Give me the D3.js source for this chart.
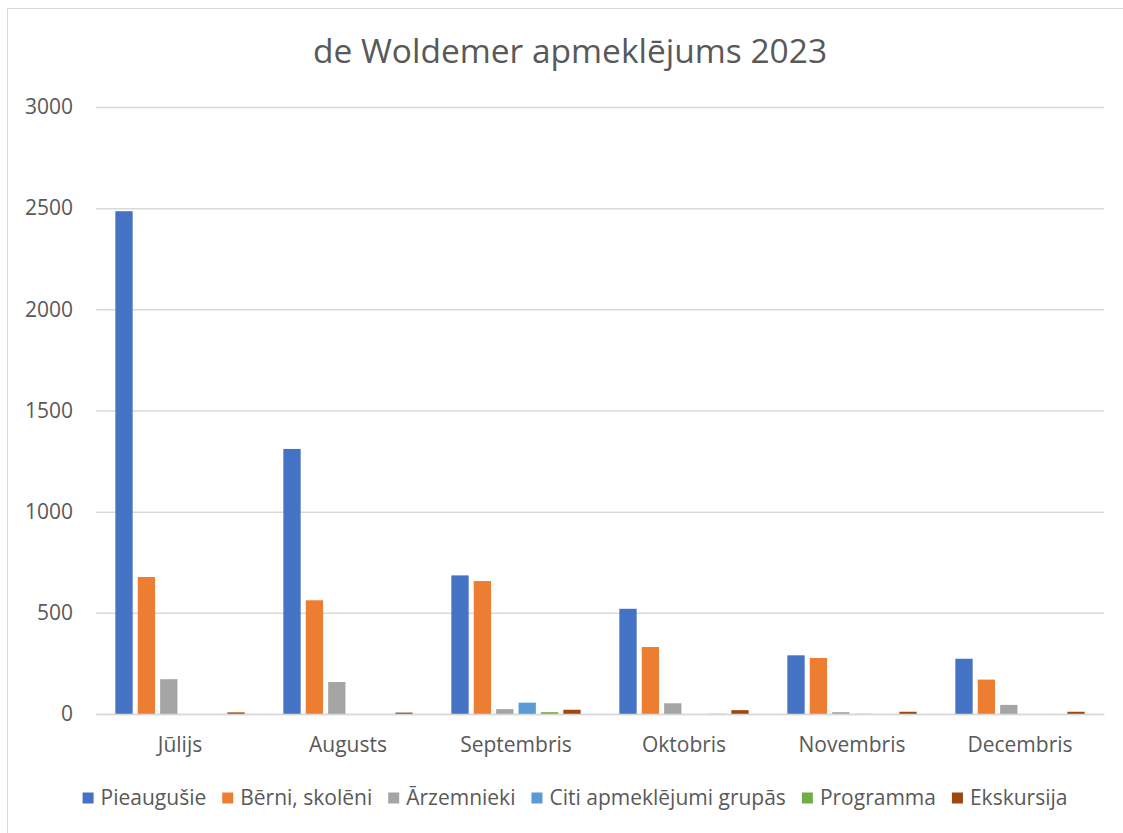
<!DOCTYPE html>
<html>
<head>
<meta charset="utf-8">
<script src="https://cdn.jsdelivr.net/npm/d3@7"></script>
<style>
  html, body { margin: 0; padding: 0; background: #fff; }
  svg { display: block; }
  text { font-family: "Open Sans", "Noto Sans", sans-serif; fill: #595959; }
</style>
</head>
<body>
<svg id="chart" width="1123" height="833"></svg>
<script>
const title = "de Woldemer apmeklējums 2023";
const months = ["Jūlijs", "Augusts", "Septembris", "Oktobris", "Novembris", "Decembris"];
const seriesNames = ["Pieaugušie", "Bērni, skolēni", "Ārzemnieki", "Citi apmeklējumi grupās", "Programma", "Ekskursija"];
const seriesColors = ["#4472C4", "#ED7D31", "#A5A5A5", "#5B9BD5", "#70AD47", "#9E480E"];
const pieaugusie = [2485, 1310, 685, 520, 290, 273];
const berni = [677, 562, 657, 331, 277, 170];
const arzemnieki = [172, 158, 24, 53, 9, 45];
const citi = [0, 0, 56, 0, 1, 0];
const programma = [0, 0, 9, 1, 0, 0];
const ekskursija = [8, 7, 21, 19, 11, 11];
const yTicks = [0, 500, 1000, 1500, 2000, 2500, 3000];

const seriesValues = [pieaugusie, berni, arzemnieki, citi, programma, ekskursija];

const svg = d3.select("#chart");
const W = 1123, H = 833;

// chart border
svg.append("rect").attr("x", 7.5).attr("y", 8.5).attr("width", W).attr("height", H)
  .attr("fill", "#fff").attr("stroke", "#d9d9d9").attr("stroke-width", 1);

const plot = { left: 96, right: 1104, top: 107, bottom: 714 };

const y = d3.scaleLinear().domain([0, 3000]).range([plot.bottom, plot.top]);
const x0 = d3.scaleBand().domain(months).range([plot.left, plot.right]).padding(0);
const x1 = d3.scaleBand().domain(seriesNames).range([0, x0.bandwidth()])
  .paddingInner(0.228).paddingOuter(0.864);

// title
svg.append("text").attr("x", 570).attr("y", 63).attr("text-anchor", "middle")
  .style("font-size", "33.5px").text(title);

// gridlines
const yAxis = d3.axisLeft(y).tickValues(yTicks).tickFormat(d3.format("d"))
  .tickSize(-(plot.right - plot.left)).tickPadding(23);
const gy = svg.append("g").attr("transform", `translate(${plot.left},0)`).call(yAxis);
gy.select(".domain").remove();
gy.selectAll(".tick line").attr("stroke", "#d9d9d9").attr("stroke-width", 1.5);
gy.selectAll(".tick text").style("font-size", "21px").attr("fill", "#595959");

// bars
const data = [];
months.forEach((m, i) => {
  seriesNames.forEach((s, j) => {
    data.push({ month: m, series: s, value: seriesValues[j][i], color: seriesColors[j] });
  });
});
svg.append("g").selectAll("rect").data(data).join("rect")
  .attr("x", d => x0(d.month) + x1(d.series))
  .attr("y", d => y(d.value))
  .attr("width", x1.bandwidth())
  .attr("height", d => y(0) - y(d.value))
  .attr("fill", d => d.color);

// x axis
const xAxis = d3.axisBottom(x0).tickSize(0).tickPadding(23);
const gx = svg.append("g").attr("transform", `translate(0,${plot.bottom})`).call(xAxis);
gx.select(".domain").attr("stroke", "#d9d9d9").attr("stroke-width", 1.5);
gx.selectAll(".tick text").style("font-size", "21px").attr("fill", "#595959");

// legend
const legend = svg.append("g");
const legendY = 798;
let items = [];
seriesNames.forEach((s, j) => {
  const g = legend.append("g");
  g.append("rect").attr("x", 0).attr("y", -5.5).attr("width", 11).attr("height", 11).attr("fill", seriesColors[j]);
  const t = g.append("text").attr("x", 18).attr("y", 0).attr("dy", "0.35em").style("font-size", "21px").text(s);
  const w = 18 + t.node().getComputedTextLength();
  items.push({ g, w });
});
const gap = 16;
const total = d3.sum(items, d => d.w) + gap * (items.length - 1);
let cx = 575 - total / 2;
items.forEach(it => { it.g.attr("transform", `translate(${cx},${legendY})`); cx += it.w + gap; });
</script>
</body>
</html>
